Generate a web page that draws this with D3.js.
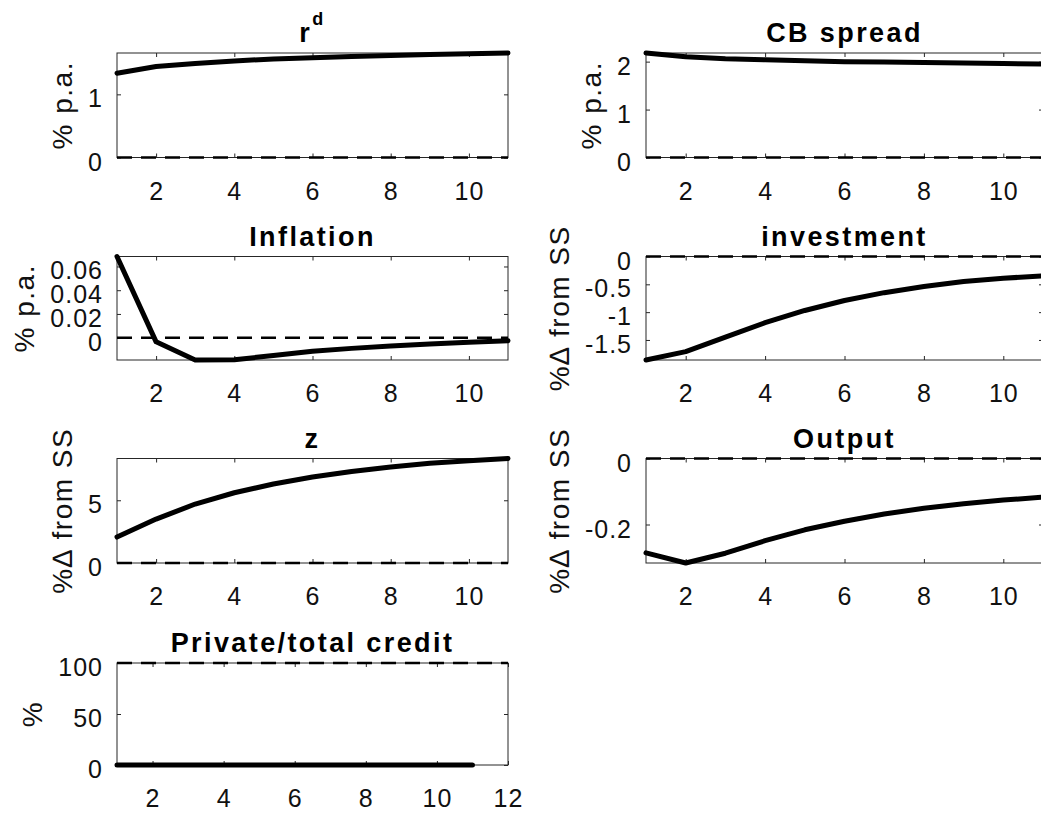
<!DOCTYPE html>
<html><head><meta charset="utf-8">
<script src="https://cdn.jsdelivr.net/npm/d3@7/dist/d3.min.js"></script>
<style>body{margin:0;background:#fff}svg{display:block}</style>
</head><body>
<svg id="chart" width="1041" height="818"></svg>
<script>
// ---- data ----
const periods = [1, 2, 3, 4, 5, 6, 7, 8, 9, 10, 11];
const rd = [1.335, 1.44, 1.49, 1.53, 1.56, 1.58, 1.60, 1.615, 1.63, 1.645, 1.655];
const cbSpread = [2.18, 2.10, 2.06, 2.04, 2.02, 2.00, 1.99, 1.98, 1.97, 1.96, 1.95];
const inflation = [0.0684, -0.0035, -0.0188, -0.0186, -0.0150, -0.0115, -0.0090, -0.0070, -0.0053, -0.0038, -0.0025];
const investment = [-1.86, -1.71, -1.45, -1.19, -0.97, -0.79, -0.65, -0.54, -0.45, -0.39, -0.35];
const zVals = [2.07, 3.5, 4.7, 5.6, 6.3, 6.85, 7.3, 7.65, 7.95, 8.15, 8.33];
const output = [-0.286, -0.3166, -0.287, -0.249, -0.216, -0.190, -0.168, -0.151, -0.137, -0.126, -0.117];
const privateShare = [0, 0, 0, 0, 0, 0, 0, 0, 0, 0, 0];

const titles = ["r", "CB spread", "Inflation", "investment", "z", "Output", "Private/total credit"];
const titleSup = ["d", "", "", "", "", "", ""];
const ylabels = ["% p.a.", "% p.a.", "% p.a.", "%\u2206 from SS", "%\u2206 from SS", "%\u2206 from SS", "%"];
const refValues = [0, 0, 0, 0, 0, 0, 100];
const xMaxes = [11, 11, 11, 11, 11, 11, 12];
const xTicksShort = [2, 4, 6, 8, 10];
const xTicksLong = [2, 4, 6, 8, 10, 12];
const yTicks = [
  [0, 1],
  [0, 1, 2],
  [0, 0.02, 0.04, 0.06],
  [-1.5, -1, -0.5, 0],
  [0, 5],
  [-0.2, 0],
  [0, 50, 100]
];
const series = [rd, cbSpread, inflation, investment, zVals, output, privateShare];

// ---- layout ----
const colX = [[117, 508], [646, 1043]];
const rowY = [[53, 157.5], [256.5, 360], [458.5, 563], [663, 765]];
const FONT = "'Liberation Sans', Arial, Helvetica, sans-serif";
const AX = "#262626";

const svg = d3.select("#chart");

series.forEach((vals, i) => {
  const col = i % 2, row = Math.floor(i / 2);
  const [x0, x1] = colX[col];
  const [y0, y1] = rowY[row];
  const ref = refValues[i];
  const x = d3.scaleLinear().domain([1, xMaxes[i]]).range([x0, x1]);
  const y = d3.scaleLinear().domain(d3.extent(vals.concat([ref]))).range([y1, y0]);
  const xt = xMaxes[i] === 12 ? xTicksLong : xTicksShort;
  const g = svg.append("g");

  // axes
  const bottom = g.append("g").attr("transform", `translate(0,${y1})`)
    .call(d3.axisBottom(x).tickValues(xt).tickSizeInner(-4).tickSizeOuter(0).tickPadding(25).tickFormat(d => String(d)));
  const top = g.append("g").attr("transform", `translate(0,${y0})`)
    .call(d3.axisTop(x).tickValues(xt).tickSizeInner(-4).tickSizeOuter(0).tickFormat(""));
  const left = g.append("g").attr("transform", `translate(${x0},0)`)
    .call(d3.axisLeft(y).tickValues(yTicks[i]).tickSizeInner(-4).tickSizeOuter(0).tickPadding(14).tickFormat(d => String(d)));
  const right = g.append("g").attr("transform", `translate(${x1},0)`)
    .call(d3.axisRight(y).tickValues(yTicks[i]).tickSizeInner(-4).tickSizeOuter(0).tickFormat(""));
  [bottom, top, left, right].forEach(a => {
    a.select(".domain").remove();
    a.selectAll("line").attr("stroke", AX).attr("stroke-width", 1);
    a.selectAll("text").attr("fill", "#111").style("font-family", FONT).style("font-size", "25px").style("letter-spacing", "1px");
  });
  left.selectAll("text").attr("dy", "0.5em");
  bottom.selectAll("text").attr("dy", "0.68em");

  // box
  g.append("rect").attr("x", x0).attr("y", y0).attr("width", x1 - x0).attr("height", y1 - y0)
    .attr("fill", "none").attr("stroke", AX).attr("stroke-width", 1);

  // data line
  g.append("path").datum(vals)
    .attr("d", d3.line().x((d, k) => x(periods[k])).y(d => y(d)))
    .attr("fill", "none").attr("stroke", "#000").attr("stroke-width", 5)
    .attr("stroke-linejoin", "round").attr("stroke-linecap", "round");

  // reference (steady state) line
  g.append("line").attr("x1", x(1)).attr("x2", x(xMaxes[i])).attr("y1", y(ref)).attr("y2", y(ref))
    .attr("stroke", "#000").attr("stroke-width", 2.4).attr("stroke-dasharray", "15,9");

  // title
  const t = g.append("text").attr("x", (x0 + x1) / 2).attr("y", y0 - 11)
    .attr("text-anchor", "middle").style("font-family", FONT).style("font-weight", "bold")
    .style("font-size", "27px").style("letter-spacing", "2.4px").attr("fill", "#000");
  t.append("tspan").text(titles[i]);
  if (titleSup[i]) t.append("tspan").attr("dy", -17).style("font-size", "18px").text(titleSup[i]);

  // y label
  const bb = left.node().getBBox();
  const lx = x0 + bb.x - 16;
  const ly = (y0 + y1) / 2;
  g.append("text").attr("transform", `translate(${lx},${ly}) rotate(-90)`)
    .attr("text-anchor", "middle").style("font-family", FONT).style("font-size", "28px")
    .style("letter-spacing", "1.5px").attr("fill", "#111").text(ylabels[i]);
});
</script>
</body></html>
